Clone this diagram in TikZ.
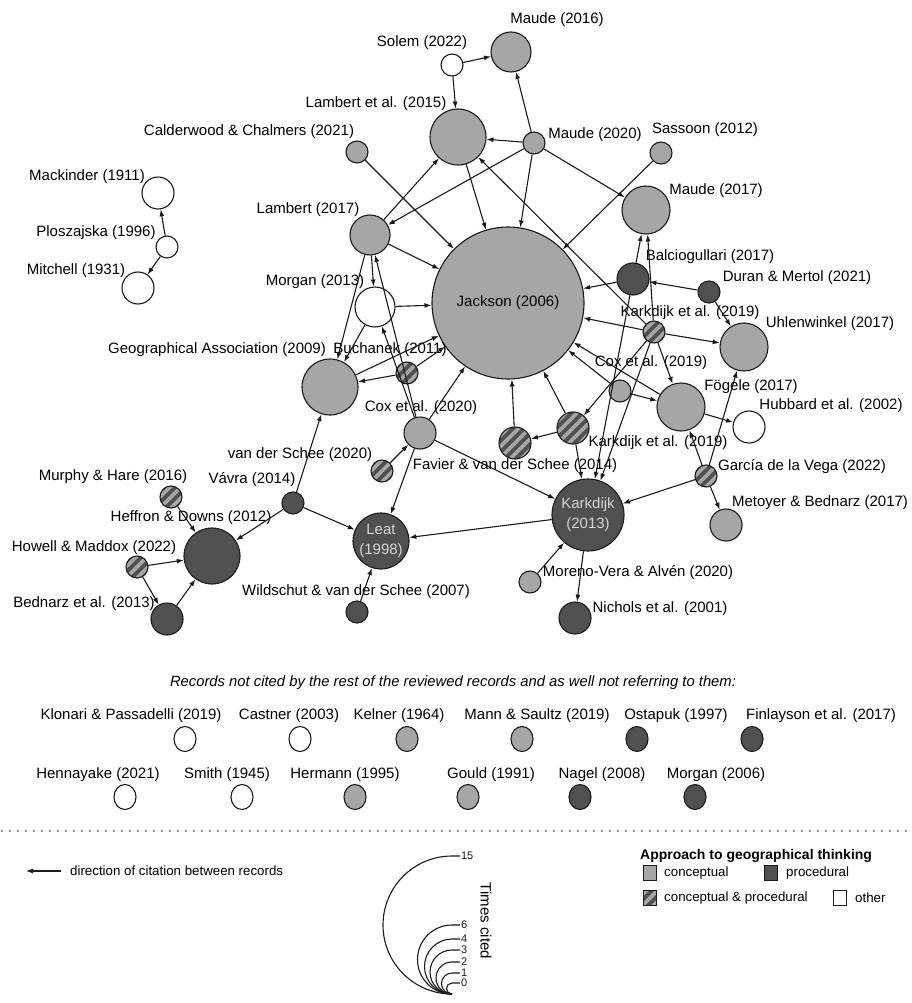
\documentclass[tikz,border=0pt]{standalone}
\usepackage{fontspec}
\setmainfont{Liberation Sans}
\usetikzlibrary{arrows.meta,calc,shapes.geometric}
\definecolor{concc}{HTML}{A6A6A6}
\definecolor{procc}{HTML}{505050}
\definecolor{edgec}{HTML}{1A1A1A}
\definecolor{leatc}{HTML}{D4D4D4}
\tikzset{
  nd/.style={circle, draw=edgec, line width=1.1pt, inner sep=0pt, minimum size=2*#1pt},
  conc/.style={nd=#1, fill=concc},
  proc/.style={nd=#1, fill=procc},
  oth/.style={nd=#1, fill=white},
  stripes/.style={path picture={
    \foreach \k in {-6,...,6}{
      \draw[concc, line width=3.6pt] ($(path picture bounding box.center)+(\k*11pt-45pt,-45pt)$) -- ++(90pt,90pt);
    }}},
  mixd/.style={nd=#1, fill=procc, stripes},
  lab/.style={font=\fontsize{15}{17}\selectfont, inner sep=0pt, text=black},
  cit/.style={draw=edgec, line width=1.1pt, -{Latex[length=7pt,width=5pt]}},
  ell/.style={ellipse, draw=edgec, line width=1.1pt, minimum width=22pt, minimum height=25pt, inner sep=0pt},
  sq/.style={rectangle, draw=edgec, line width=1.1pt, minimum width=13pt, minimum height=15pt, inner sep=0pt},
  small/.style={font=\fontsize{13.3}{15}\selectfont, inner sep=0pt},
  num/.style={font=\fontsize{11}{12}\selectfont, inner sep=0.5pt, anchor=west},
}
\begin{document}
\begin{tikzpicture}[x=1pt,y=-1pt]
\useasboundingbox (0,0) rectangle (911,1003);
% ---------- nodes ----------
\node[oth=16] (mack) at (158,193) {};
\node[oth=11] (plos) at (167,247) {};
\node[oth=16] (mitch) at (138,288) {};
\node[oth=11] (solem) at (452,65) {};
\node[conc=20] (maude16) at (511,52) {};
\node[conc=28] (lamb15) at (458,137) {};
\node[conc=11] (maude20) at (534,143) {};
\node[conc=11] (calder) at (357,152) {};
\node[conc=11] (sassoon) at (661,153) {};
\node[conc=20] (lamb17) at (370,235) {};
\node[oth=20] (morgan13) at (375,307) {};
\node[conc=28] (ga) at (330,387) {};
\node[mixd=11] (buch) at (407,373) {};
\node[conc=76, lab] (jackson) at (508,303) {Jackson (2006)};
\node[conc=24] (maude17) at (646,210) {};
\node[proc=16] (balc) at (633,279) {};
\node[proc=11] (duran) at (709,292) {};
\node[mixd=11] (kark19a) at (654,332) {};
\node[conc=24] (uhl) at (744,347) {};
\node[conc=11] (cox19) at (620,391) {};
\node[conc=24] (fog) at (681,407) {};
\node[oth=16] (hub) at (749,427) {};
\node[conc=16] (cox20) at (420,433) {};
\node[mixd=11] (vds20) at (382,471) {};
\node[mixd=16] (favier) at (515,443) {};
\node[mixd=16] (kark19b) at (573,428) {};
\node[proc=11] (vavra) at (293,503) {};
\node[mixd=11] (murphy) at (171,497) {};
\node[proc=28] (heff) at (212,556) {};
\node[mixd=11] (howell) at (137,567) {};
\node[proc=16] (bednarz) at (167,619) {};
\node[proc=28, align=center, text=leatc, font=\fontsize{15}{20}\selectfont] (leat) at (381,541) {Leat\\(1998)};
\node[proc=11] (wild) at (357,612) {};
\node[proc=36, align=center, text=leatc, font=\fontsize{15}{20}\selectfont] (kark13) at (588,515) {Karkdijk\\(2013)};
\node[mixd=11] (garcia) at (706,476) {};
\node[conc=16] (metoyer) at (726,525) {};
\node[conc=11] (moreno) at (530,582) {};
\node[proc=16] (nichols) at (575,618) {};
% ---------- labels ----------
\node[lab] (tmack) at (87,177) {Mackinder (1911)};
\node[lab] (tplos) at (96,233) {Ploszajska (1996)};
\node[lab] (tmitch) at (76,271) {Mitchell (1931)};
\node[lab] (tsolem) at (422,43) {Solem (2022)};
\node[lab] (tmaude16) at (557,20) {Maude (2016)};
\node[lab] (tlamb15) at (376,104) {Lambert et al. (2015)};
\node[lab] (tmaude20) at (595,135) {Maude (2020)};
\node[lab] (tcalder) at (249,132) {Calderwood \& Chalmers (2021)};
\node[lab] (tsassoon) at (705,130) {Sassoon (2012)};
\node[lab] (tlamb17) at (308,210) {Lambert (2017)};
\node[lab] (tmorgan13) at (315,282) {Morgan (2013)};
\node[lab] (tga) at (217,350) {Geographical Association (2009)};
\node[lab] (tbuch) at (390,350) {Buchanek (2011)};
\node[lab] (tmaude17) at (716,191) {Maude (2017)};
\node[lab] (tbalc) at (710,257) {Balciogullari (2017)};
\node[lab] (tduran) at (797,278) {Duran \& Mertol (2021)};
\node[lab] (tkark19a) at (690,313) {Karkdijk et al. (2019)};
\node[lab] (tuhl) at (830,324) {Uhlenwinkel (2017)};
\node[lab] (tcox19) at (651,363) {Cox et al. (2019)};
\node[lab] (tfog) at (751,387) {Fögele (2017)};
\node[lab] (thub) at (831,406) {Hubbard et al. (2002)};
\node[lab] (tkark19b) at (658,443) {Karkdijk et al. (2019)};
\node[lab] (tgarcia) at (802,467) {García de la Vega (2022)};
\node[lab] (tmetoyer) at (820,503) {Metoyer \& Bednarz (2017)};
\node[lab] (tmoreno) at (638,573) {Moreno-Vera \& Alvén (2020)};
\node[lab] (tnichols) at (660,609) {Nichols et al. (2001)};
\node[lab] (tvds20) at (300,455) {van der Schee (2020)};
\node[lab] (tvavra) at (252,480) {Vávra (2014)};
\node[lab] (tmurphy) at (113,477) {Murphy \& Hare (2016)};
\node[lab] (theff) at (191,518) {Heffron \& Downs (2012)};
\node[lab] (thowell) at (94,548) {Howell \& Maddox (2022)};
\node[lab] (tbednarz) at (84,604) {Bednarz et al. (2013)};
\node[lab] (twild) at (356,592) {Wildschut \& van der Schee (2007)};
\node[lab] (tcox20) at (421,408) {Cox et al. (2020)};
\node[lab] (tfavier) at (515,466) {Favier \& van der Schee (2014)};
% ---------- citations ----------
\draw[cit] (plos) -- (mack);
\draw[cit] (plos) -- (mitch);
\draw[cit] (solem) -- (maude16);
\draw[cit] (solem) -- (lamb15);
\draw[cit] (maude20) -- (maude16);
\draw[cit] (maude20) -- (lamb15);
\draw[cit] (maude20) -- (maude17);
\draw[cit] (maude20) -- (jackson);
\draw[cit] (maude20) -- (lamb17);
\draw[cit] (lamb17) -- (lamb15);
\draw[cit] (calder) -- (jackson);
\draw[cit] (lamb15) -- (jackson);
\draw[cit] (sassoon) -- (jackson);
\draw[cit] (kark19a) -- (lamb15);
\draw[cit] (lamb17) -- (jackson);
\draw[cit] (lamb17) -- (morgan13);
\draw[cit] (lamb17) -- (ga);
\draw[cit] (morgan13) -- (jackson);
\draw[cit] (morgan13) -- (ga);
\draw[cit] (cox20) -- (lamb17);
\draw[cit] (cox20) -- (morgan13);
\draw[cit] (buch) -- (jackson);
\draw[cit] (buch) -- (ga);
\draw[cit] (ga) -- (jackson);
\draw[cit] (cox20) -- (jackson);
\draw[cit] (vds20) -- (cox20);
\draw[cit] (cox20) -- (leat);
\draw[cit] (cox20) -- (kark13);
\draw[cit] (vavra) -- (ga);
\draw[cit] (vavra) -- (heff);
\draw[cit] (vavra) -- (leat);
\draw[cit] (murphy) -- (heff);
\draw[cit] (howell) -- (heff);
\draw[cit] (howell) -- (bednarz);
\draw[cit] (bednarz) -- (heff);
\draw[cit] (wild) -- (leat);
\draw[cit] (kark13) -- (leat);
\draw[cit] (balc) -- (maude17);
\draw[cit] (kark19a) -- (maude17);
\draw[cit] (balc) -- (jackson);
\draw[cit] (duran) -- (balc);
\draw[cit] (duran) -- (uhl);
\draw[cit] (kark19a) -- (jackson);
\draw[cit] (kark19a) -- (uhl);
\draw[cit] (kark19a) -- (fog);
\draw[cit] (kark19a) -- (kark19b);
\draw[cit] (kark19a) -- (kark13);
\draw[cit] (balc) -- (kark13);
\draw[cit] (cox19) -- (jackson);
\draw[cit] (cox19) -- (fog);
\draw[cit] (fog) -- (jackson);
\draw[cit] (fog) -- (hub);
\draw[cit] (garcia) -- (kark13);
\draw[cit] (garcia) -- (metoyer);
\draw[cit] (garcia) -- (fog);
\draw[cit] (garcia) -- (uhl);
\draw[cit] (moreno) -- (kark13);
\draw[cit] (kark13) -- (nichols);
\draw[cit] (kark19b) -- (favier);
\draw[cit] (favier) -- (jackson);
\draw[cit] (kark19b) -- (jackson);
\draw[cit] (kark19b) -- (kark13);
% ---------- isolated records ----------
\node[font=\itshape\fontsize{14.8}{16}\selectfont, inner sep=0pt] (title) at (453,683) {Records not cited by the rest of the reviewed records and as well not referring to them:};
\node[lab] (i1t) at (131,716) {Klonari \& Passadelli (2019)};
\node[lab] (i2t) at (289,716) {Castner (2003)};
\node[lab] (i3t) at (399,716) {Kelner (1964)};
\node[lab] (i4t) at (537,716) {Mann \& Saultz (2019)};
\node[lab] (i5t) at (676,716) {Ostapuk (1997)};
\node[lab] (i6t) at (821,716) {Finlayson et al. (2017)};
\node[ell, fill=white] (i1) at (185,739) {};
\node[ell, fill=white] (i2) at (300,739) {};
\node[ell, fill=concc] (i3) at (407,739) {};
\node[ell, fill=concc] (i4) at (522,739) {};
\node[ell, fill=procc] (i5) at (637,739) {};
\node[ell, fill=procc] (i6) at (752,739) {};
\node[lab] (j1t) at (98,775) {Hennayake (2021)};
\node[lab] (j2t) at (227,775) {Smith (1945)};
\node[lab] (j3t) at (345,775) {Hermann (1995)};
\node[lab] (j4t) at (491,775) {Gould (1991)};
\node[lab] (j5t) at (602,775) {Nagel (2008)};
\node[lab] (j6t) at (716,775) {Morgan (2006)};
\node[ell, fill=white] (j1) at (125,797) {};
\node[ell, fill=white] (j2) at (242,797) {};
\node[ell, fill=concc] (j3) at (355,797) {};
\node[ell, fill=concc] (j4) at (468,797) {};
\node[ell, fill=procc] (j5) at (580,797) {};
\node[ell, fill=procc] (j6) at (695,797) {};
% ---------- separator ----------
\coordinate (sepL) at (2,831);
\coordinate (sepR) at (911,831);
\draw[edgec, line width=1.6pt, line cap=round, dash pattern=on 0pt off 8pt] (sepL) -- (sepR);
% ---------- legend: direction ----------
\coordinate (dirS) at (61,871);
\coordinate (dirE) at (26,871);
\draw[cit] (dirS) -- (dirE);
\node[small, anchor=west] (dirt) at (70,871) {direction of citation between records};
% ---------- legend: approach ----------
\node[font=\bfseries\fontsize{14}{16}\selectfont, inner sep=0pt, anchor=west] (apt) at (640,856) {Approach to geographical thinking};
\node[sq, fill=concc] (sqc) at (650,873) {};
\node[small, anchor=west] (sqct) at (664,873) {conceptual};
\node[sq, fill=procc] (sqp) at (771,873) {};
\node[small, anchor=west] (sqpt) at (786,873) {procedural};
\node[sq, fill=procc, stripes] (sqm) at (650,898) {};
\node[small, anchor=west] (sqmt) at (664,898) {conceptual \& procedural};
\node[sq, fill=white] (sqo) at (840,898) {};
\node[small, anchor=west] (sqot) at (855,898) {other};
% ---------- legend: times cited ----------
\coordinate (tcB) at (452,994);
\foreach \r/\t in {69/15, 34.5/6, 27.5/4, 22/3, 16/2, 10.5/1, 5.5/0}{
  \draw[edgec, line width=1.1pt] (tcB) arc[start angle=90, end angle=270, radius=\r] -- ++(8,0) node[num] {\t};
}
\node[font=\fontsize{15}{16}\selectfont, rotate=-90, inner sep=0pt] (tct) at (486,921) {Times cited};
\end{tikzpicture}
\end{document}
